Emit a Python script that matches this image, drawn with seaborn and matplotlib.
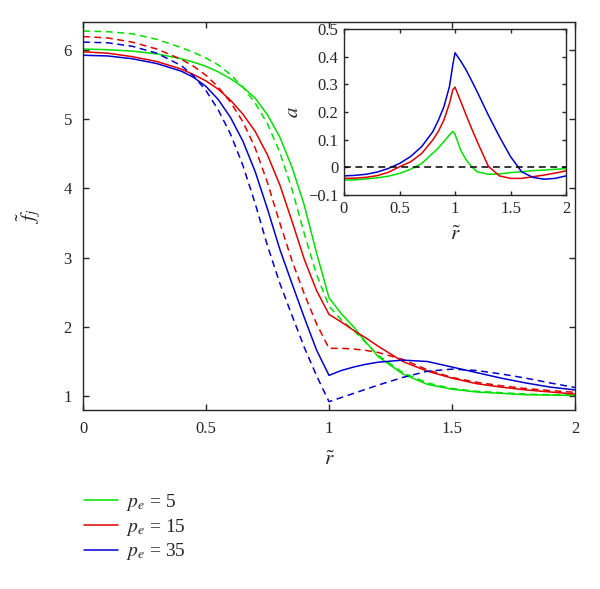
"""
f_j profiles vs r~ for three p_e values, with inset of a(r~)
"""

import numpy as np
import matplotlib
matplotlib.use('Agg')
import matplotlib.pyplot as plt
import seaborn as sns

# Main panel data (solid and dashed curves share one r grid)
r_main = [0, 0.1, 0.2, 0.3, 0.4, 0.45, 0.5, 0.55, 0.6, 0.65, 0.7, 0.75, 0.8, 0.85,
          0.9, 0.95, 1.0, 1.05, 1.1, 1.15, 1.2, 1.3, 1.4, 1.5, 1.6, 1.7, 1.8, 1.9, 2.0]

f_pe5_solid = [6.01, 6.0, 5.98, 5.94, 5.87, 5.82, 5.76, 5.68, 5.58, 5.46, 5.3, 5.06, 4.74, 4.3,
               3.75, 3.06, 2.42, 2.19, 2.0, 1.78, 1.57, 1.32, 1.17, 1.1, 1.06, 1.04, 1.02, 1.015, 1.01]
f_pe5_dash = [6.27, 6.26, 6.23, 6.15, 6.03, 5.96, 5.88, 5.78, 5.64, 5.46, 5.23, 4.93, 4.52, 3.98,
              3.34, 2.75, 2.3, 2.1, 1.95, 1.77, 1.59, 1.34, 1.19, 1.11, 1.07, 1.05, 1.03, 1.02, 1.015]
f_pe15_solid = [5.97, 5.95, 5.9, 5.83, 5.72, 5.64, 5.55, 5.43, 5.27, 5.07, 4.82, 4.48, 4.05, 3.52,
                2.97, 2.52, 2.18, 2.07, 1.95, 1.84, 1.72, 1.5, 1.36, 1.26, 1.18, 1.13, 1.09, 1.06, 1.03]
f_pe15_dash = [6.19, 6.17, 6.11, 6.01, 5.86, 5.76, 5.63, 5.46, 5.24, 4.96, 4.58, 4.08, 3.5, 2.95,
               2.47, 2.04, 1.69, 1.69, 1.68, 1.66, 1.63, 1.53, 1.38, 1.27, 1.2, 1.15, 1.11, 1.08, 1.055]
f_pe35_solid = [5.92, 5.91, 5.87, 5.8, 5.69, 5.6, 5.47, 5.28, 5.02, 4.68, 4.24, 3.7, 3.12, 2.62,
                2.13, 1.66, 1.3, 1.37, 1.42, 1.46, 1.49, 1.52, 1.5, 1.42, 1.34, 1.26, 1.19, 1.13, 1.09]
f_pe35_dash = [6.11, 6.1, 6.05, 5.95, 5.77, 5.62, 5.41, 5.13, 4.78, 4.33, 3.78, 3.17, 2.63, 2.16,
               1.7, 1.29, 0.92, 0.98, 1.04, 1.1, 1.16, 1.27, 1.36, 1.39, 1.37, 1.32, 1.26, 1.19, 1.125]

# Inset data
r_inset = [0, 0.1, 0.2, 0.3, 0.4, 0.5, 0.6, 0.7, 0.8, 0.85, 0.9, 0.95, 0.98, 1.0,
           1.05, 1.1, 1.15, 1.2, 1.3, 1.4, 1.5, 1.6, 1.7, 1.8, 1.9, 2.0]
a_pe5 = [-0.046, -0.045, -0.042, -0.038, -0.032, -0.022, -0.007, 0.014, 0.051, 0.07, 0.093, 0.117,
         0.13, 0.12, 0.063, 0.027, 0.002, -0.016, -0.025, -0.024, -0.019, -0.016, -0.012, -0.01,
         -0.007, -0.005]
a_pe15 = [-0.04, -0.039, -0.036, -0.03, -0.018, 0.002, 0.02, 0.05, 0.099, 0.13, 0.171, 0.231,
          0.28, 0.29, 0.24, 0.189, 0.14, 0.093, 0.004, -0.031, -0.04, -0.04, -0.034, -0.028,
          -0.021, -0.013]
a_pe35 = [-0.031, -0.029, -0.025, -0.017, -0.004, 0.014, 0.039, 0.075, 0.129, 0.17, 0.219, 0.292,
          0.37, 0.414, 0.385, 0.352, 0.313, 0.273, 0.189, 0.111, 0.039, -0.016, -0.036, -0.043,
          -0.04, -0.031]

labels = [r'$p_e$ = 5', r'$p_e$ = 15', r'$p_e$ = 35']
colors = ['#00e000', '#e00000', '#0000d0']

sns.set_style('ticks')
plt.rcParams['font.family'] = ['Liberation Serif', 'DejaVu Serif']
plt.rcParams['mathtext.fontset'] = 'stix'
plt.rcParams['xtick.direction'] = 'in'
plt.rcParams['ytick.direction'] = 'in'
plt.rcParams['axes.linewidth'] = 1.0

fig = plt.figure(figsize=(6, 5.89), dpi=100)
ax = fig.add_axes([83 / 600, 1 - 410 / 589, 492 / 600, 388 / 589])

solid_sets = [f_pe5_solid, f_pe15_solid, f_pe35_solid]
dash_sets = [f_pe5_dash, f_pe15_dash, f_pe35_dash]

handles = []
for fs, fd, c in zip(solid_sets, dash_sets, colors):
    sns.lineplot(x=r_main, y=fs, ax=ax, color=c, linewidth=1.1)
    handles.append(ax.lines[-1])
    sns.lineplot(x=r_main, y=fd, ax=ax, color=c, linewidth=1.1)
    ax.lines[-1].set_dashes((4.5, 3))

ax.set_xlim(0, 2)
ax.set_ylim(0.8, 6.4)
ax.set_xticks([0, 0.5, 1, 1.5, 2])
ax.set_xticklabels(['0', '0.5', '1', '1.5', '2'])
ax.set_yticks([1, 2, 3, 4, 5, 6])
ax.tick_params(top=True, right=True, labelsize=12, length=4, width=1.0, pad=8)
ax.set_xlabel(r'$\tilde{r}$', fontsize=15, labelpad=10)
ax.set_ylabel(r'$\tilde{f}_j$', fontsize=15, labelpad=14)

# Inset
axin = fig.add_axes([344 / 600, 1 - 195 / 589, 222 / 600, 166 / 589])
for a_vals, c in zip([a_pe5, a_pe15, a_pe35], colors):
    sns.lineplot(x=r_inset, y=a_vals, ax=axin, color=c, linewidth=1.1)
axin.axhline(0, color='black', linewidth=1.1, dashes=(4.5, 3))
axin.set_xlim(0, 2)
axin.set_ylim(-0.1, 0.5)
axin.set_xticks([0, 0.5, 1, 1.5, 2])
axin.set_xticklabels(['0', '0.5', '1', '1.5', '2'])
axin.set_yticks([-0.1, 0, 0.1, 0.2, 0.3, 0.4, 0.5])
axin.set_yticklabels(['\u22120.1', '0', '0.1', '0.2', '0.3', '0.4', '0.5'])
axin.tick_params(top=True, right=True, labelsize=12, length=3, width=1.0, pad=4)
axin.set_xlabel(r'$\tilde{r}$', fontsize=15, labelpad=7)
axin.set_ylabel(r'$a$', fontsize=15, labelpad=4)

fig.legend(handles=handles, labels=labels, loc='upper left',
           bbox_to_anchor=(74 / 600, 1 - 482 / 589), frameon=False,
           fontsize=14, handlelength=1.75, handletextpad=0.45, labelspacing=0.2,
           borderpad=0)

plt.savefig('out.png', dpi=100)
plt.close()
